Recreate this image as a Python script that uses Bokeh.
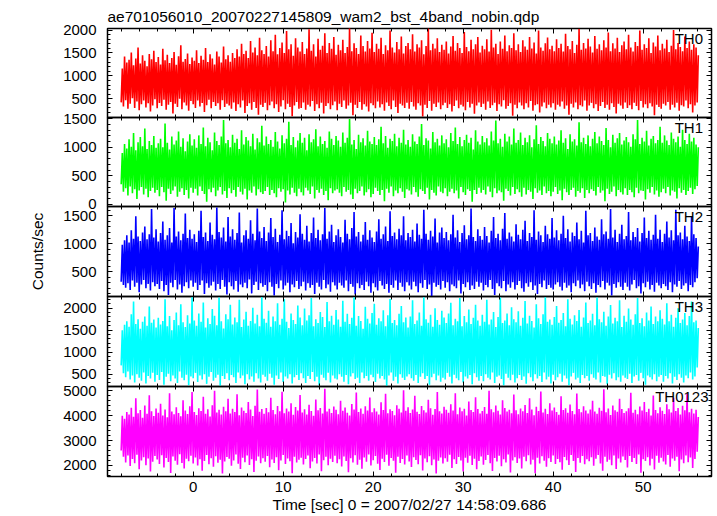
import numpy as np
from bokeh.plotting import figure
from bokeh.layouts import column
from bokeh.models import Range1d, LinearAxis, Label, SingleIntervalTicker, CustomJSTickFormatter
from bokeh.embed import file_html
from bokeh.resources import INLINE

TITLE = "ae701056010_20070227145809_wam2_bst_4band_nobin.qdp"
X_LABEL = "Time [sec] 0 = 2007/02/27 14:58:09.686"
Y_LABEL = "Counts/sec"
SERIES_NAMES = ["TH0", "TH1", "TH2", "TH3", "TH0123"]
COLORS = ["#ff0000", "#00ff00", "#0000ff", "#00ffff", "#ff00ff"]

X_RANGE = (-9.52, 57.59)
Y_RANGES = [(90, 2035), (-42, 1525), (54, 1667), (220, 2265), (1555, 5175)]
Y_TICK_STEP = [500, 500, 500, 500, 1000]
X_TICK_STEP = 10

# light-curve local maxima / minima, every 0.25 s from t = -8 s
TIME_START = -8.0
TIME_STEP = 0.25

TH0_PEAK = [
    1160, 1420, 1290, 1350, 1510, 1230, 1380, 1620, 1270, 1450, 1330, 1210, 1480, 1360, 1550, 1300,
    1410, 1250, 1590, 1340, 1460, 1280, 1390, 1520, 1240, 1430, 1670, 1310, 1370, 1490, 1260, 1400,
    1330, 1560, 1280, 1440, 1350, 1610, 1300, 1470, 1380, 1250, 1530, 1420, 1290, 1640, 1360, 1450,
    1310, 1500, 1390, 1580, 1420, 1700, 1480, 1550, 1390, 1760, 1510, 1620, 1450, 1830, 1560, 1480,
    1650, 1420, 1780, 1540, 1900, 1470, 1610, 1730, 1500, 1980, 1580, 1690, 1440, 1820, 1620, 1530,
    1740, 1480, 1600, 2020, 1550, 1690, 1420, 1810, 1570, 1660, 1930, 1500, 1720, 1590, 1850, 1460,
    1680, 1560, 1790, 1500, 1630, 2050, 1540, 1710, 1610, 1480, 1880, 1650, 1530, 1760, 1600, 1940,
    1520, 1700, 1590, 1830, 1480, 1670, 1560, 1990, 1620, 1510, 1740, 1580, 1860, 1490, 1650, 1720,
    1580, 1910, 1530, 1690, 1620, 1780, 1470, 1650, 2040, 1560, 1700, 1600, 1820, 1520, 1680, 1570,
    1750, 1490, 1640, 1870, 1550, 1720, 1610, 1500, 1960, 1630, 1540, 1790, 1580, 1690, 1850, 1510,
    1660, 1580, 1800, 1530, 2010, 1620, 1700, 1480, 1750, 1590, 1880, 1540, 1670, 1610, 1930, 1560,
    1690, 1520, 1780, 1640, 1570, 1850, 1600, 1730, 1490, 1990, 1620, 1550, 1710, 1840, 1580, 1660,
    1540, 1800, 1610, 1700, 1530, 1920, 1650, 1580, 1760, 1500, 1680, 2030, 1570, 1720, 1600, 1810,
    1640, 1510, 1870, 1590, 1690, 1560, 1780, 1620, 1950, 1540, 1710, 1600, 1830, 1520, 1670, 1750,
    1580, 1900, 1620, 1530, 1740, 1650, 1990, 1570, 1690, 1610, 1820, 1500, 1730, 1640, 1880, 1560,
    1700, 1600, 1790, 1520, 1660, 2000, 1580, 1720, 1630, 1540, 1860, 1610, 1750, 1570, 1690, 1620,
    1450]
TH0_TROUGH = [
    420, 330, 470, 280, 390, 510, 300, 440, 250, 380, 460, 310, 400, 220, 350, 490,
    290, 410, 340, 480, 260, 370, 430, 180, 390, 320, 500, 270, 420, 350, 240, 450,
    380, 300, 460, 330, 410, 210, 360, 480, 290, 430, 340, 400, 260, 470, 320, 390,
    350, 280, 420, 230, 380, 310, 460, 190, 340, 400, 260, 430, 300, 150, 370, 320,
    410, 250, 360, 440, 290, 380, 210, 330, 470, 270, 390, 320, 120, 350, 430, 280,
    300, 420, 260, 370, 330, 450, 230, 380, 290, 410, 180, 340, 400, 270, 360, 440,
    250, 390, 320, 460, 280, 350, 410, 140, 370, 300, 430, 260, 380, 330, 220, 400,
    360, 290, 440, 310, 380, 240, 420, 340, 270, 460, 320, 190, 390, 350, 300, 410,
    280, 430, 330, 260, 400, 350, 110, 370, 300, 450, 240, 390, 320, 420, 270, 360,
    410, 300, 380, 220, 340, 460, 290, 370, 330, 250, 430, 310, 390, 170, 350, 420,
    320, 390, 260, 440, 300, 360, 410, 230, 380, 330, 470, 280, 340, 400, 130, 370,
    290, 420, 350, 270, 400, 310, 450, 240, 360, 380, 200, 330, 420, 290, 370, 310,
    400, 260, 370, 330, 440, 280, 350, 150, 390, 310, 420, 270, 360, 330, 460, 240,
    350, 410, 290, 380, 230, 340, 430, 300, 370, 260, 400, 320, 180, 390, 350, 280,
    420, 300, 360, 270, 410, 340, 250, 450, 310, 380, 290, 400, 330, 140, 370, 320,
    280, 390, 350, 430, 260, 370, 310, 410, 240, 360, 330, 460, 290, 380, 200, 350,
    420]

TH1_PEAK = [
    900, 1060, 980, 1140, 1010, 1250, 950, 1090, 1180, 1020, 1330, 970, 1110, 1040, 1200, 990,
    1070, 1150, 1000, 1420, 1080, 960, 1190, 1050, 1120, 1280, 1010, 1160, 930, 1100, 1230, 1030,
    1140, 990, 1210, 1060, 1350, 1020, 1170, 1090, 950, 1260, 1110, 1040, 1190, 1480, 1070, 1130,
    1000, 1220, 1080, 1150, 970, 1300, 1050, 1180, 1120, 1020, 1240, 960, 1160, 1090, 1380, 1030,
    1190, 1060, 1130, 1010, 1270, 1100, 980, 1210, 1070, 1150, 1450, 1040, 1180, 1000, 1120, 1250,
    1080, 1170, 950, 1230, 1090, 1140, 1320, 1020, 1190, 1060, 1110, 990, 1280, 1150, 1040, 1200,
    1120, 1010, 1260, 1080, 1170, 1500, 1050, 1130, 970, 1220, 1090, 1160, 1030, 1290, 1100, 1060,
    1180, 1040, 1140, 1360, 1070, 1200, 990, 1150, 1110, 1240, 1020, 1170, 1080, 1310, 1050, 1130,
    1010, 1230, 1100, 1060, 1190, 1410, 1040, 1160, 1120, 980, 1270, 1090, 1150, 1030, 1210, 1070,
    1140, 1000, 1250, 1110, 1350, 1060, 1180, 1020, 1130, 1220, 1080, 1170, 960, 1300, 1100, 1050,
    1200, 1090, 1160, 1030, 1280, 1120, 1470, 1070, 1150, 1010, 1240, 1100, 1190, 1050, 1330, 1080,
    1130, 1260, 1040, 1170, 1090, 1210, 1000, 1140, 1390, 1060, 1180, 1110, 1020, 1250, 1150, 1070,
    1190, 1050, 1120, 1300, 1080, 1160, 970, 1230, 1100, 1140, 1030, 1440, 1090, 1170, 1060, 1210,
    1020, 1150, 1270, 1070, 1190, 1110, 1040, 1340, 1130, 1000, 1220, 1080, 1160, 1250, 1050, 1120,
    1180, 1090, 1010, 1230, 1140, 1480, 1060, 1170, 1100, 1290, 1030, 1150, 1200, 1070, 1130, 1360,
    1080, 1210, 1120, 1040, 1260, 1150, 1090, 1190, 1010, 1310, 1130, 1060, 1240, 1100, 1170, 1050,
    1000]
TH1_TROUGH = [
    350, 220, 280, 150, 310, 190, 260, 90, 240, 300, 170, 270, 120, 230, 290, 200,
    250, 140, 300, 210, 60, 270, 180, 240, 310, 130, 220, 280, 160, 250, 100, 290,
    200, 270, 150, 310, 230, 180, 40, 260, 210, 290, 140, 240, 300, 170, 230, 110,
    280, 190, 250, 130, 300, 220, 170, 270, 80, 240, 200, 310, 150, 260, 210, 180,
    230, 300, 160, 250, 190, 120, 280, 220, 260, 30, 240, 170, 290, 200, 140, 270,
    210, 150, 290, 240, 180, 310, 100, 250, 200, 270, 160, 230, 70, 280, 190, 240,
    260, 200, 140, 300, 220, 250, 170, 90, 270, 190, 230, 310, 150, 210, 260, 120,
    180, 290, 230, 160, 250, 50, 270, 200, 310, 140, 240, 190, 280, 220, 110, 260,
    240, 170, 300, 210, 130, 260, 230, 180, 290, 80, 250, 200, 150, 310, 220, 190,
    280, 140, 220, 270, 190, 240, 100, 300, 210, 160, 260, 230, 40, 250, 180, 290,
    200, 250, 170, 310, 220, 120, 280, 190, 240, 210, 60, 270, 230, 150, 300, 180,
    260, 210, 130, 290, 170, 250, 220, 90, 280, 200, 240, 160, 310, 190, 230, 140,
    220, 300, 180, 240, 70, 270, 210, 160, 250, 290, 130, 230, 200, 280, 110, 250,
    190, 260, 230, 150, 300, 200, 240, 50, 270, 180, 220, 310, 140, 250, 210, 170,
    280, 160, 250, 210, 120, 290, 190, 240, 230, 80, 260, 200, 300, 170, 240, 130,
    210, 270, 190, 300, 150, 240, 220, 100, 280, 200, 250, 160, 230, 290, 180, 260,
    320]

TH2_PEAK = [
    980, 1060, 1150, 1020, 1240, 1090, 1490, 1130, 1050, 1200, 1310, 1080, 1170, 1620, 1110, 1260,
    1040, 1190, 1400, 1070, 1150, 1280, 1020, 1640, 1130, 1220, 1060, 1180, 1540, 1100, 1250, 1090,
    1170, 1030, 1230, 1590, 1120, 1200, 1050, 1380, 1160, 1080, 1650, 1210, 1110, 1290, 1040, 1480,
    1130, 1260, 1070, 1190, 1560, 1020, 1150, 1240, 1090, 1420, 1180, 1060, 1630, 1220, 1100, 1300,
    1050, 1200, 1460, 1120, 1270, 1030, 1160, 1600, 1080, 1230, 1140, 1370, 1010, 1210, 1110, 1530,
    1180, 1070, 1320, 1040, 1190, 1470, 1100, 1250, 1060, 1170, 1640, 1090, 1220, 1340, 1030, 1150,
    1260, 1120, 1020, 1430, 1180, 1080, 1280, 1570, 1130, 1210, 1040, 1160, 1390, 1070, 1240, 1110,
    1030, 1220, 1440, 1090, 1170, 1310, 1050, 1580, 1140, 1200, 1080, 1270, 1150, 1490, 1060, 1190,
    1120, 1250, 1040, 1360, 1160, 1090, 1610, 1180, 1070, 1230, 1130, 1450, 1020, 1200, 1290, 1100,
    1210, 1060, 1170, 1520, 1110, 1240, 1030, 1190, 1330, 1080, 1150, 1630, 1120, 1050, 1260, 1140,
    1070, 1300, 1140, 1020, 1230, 1480, 1100, 1180, 1060, 1270, 1550, 1090, 1200, 1130, 1040, 1350,
    1160, 1080, 1250, 1410, 1050, 1190, 1120, 1600, 1070, 1220, 1150, 1030, 1320, 1170, 1090, 1460,
    1110, 1240, 1060, 1180, 1500, 1100, 1260, 1040, 1200, 1140, 1380, 1080, 1230, 1020, 1590, 1150,
    1190, 1050, 1290, 1130, 1070, 1440, 1170, 1220, 1090, 1620, 1110, 1250, 1030, 1180, 1340, 1080,
    1140, 1570, 1060, 1210, 1120, 1280, 1040, 1190, 1470, 1100, 1230, 1070, 1160, 1520, 1090, 1250,
    1030, 1180, 1400, 1110, 1240, 1060, 1610, 1150, 1200, 1080, 1320, 1130, 1050, 1490, 1170, 1100,
    950]
TH2_TROUGH = [
    320, 260, 210, 290, 170, 340, 230, 300, 130, 270, 350, 200, 280, 160, 310, 240,
    280, 190, 330, 150, 260, 80, 300, 220, 350, 180, 270, 120, 240, 310, 200, 340,
    230, 300, 170, 260, 340, 100, 290, 210, 250, 320, 160, 280, 190, 350, 230, 90,
    310, 240, 180, 330, 140, 270, 220, 300, 200, 360, 110, 260, 320, 170, 290, 230,
    260, 150, 310, 230, 70, 280, 200, 340, 180, 250, 300, 130, 270, 220, 330, 190,
    240, 320, 160, 290, 210, 260, 100, 300, 230, 180, 350, 200, 270, 140, 310, 250,
    180, 300, 250, 210, 340, 150, 280, 230, 90, 290, 200, 260, 170, 320, 240, 120,
    290, 220, 160, 330, 250, 190, 280, 120, 260, 210, 340, 170, 300, 230, 150, 310,
    250, 180, 320, 240, 130, 290, 210, 350, 190, 270, 60, 300, 230, 260, 180, 330,
    210, 310, 150, 270, 240, 200, 340, 110, 280, 220, 310, 170, 250, 190, 320, 230,
    300, 160, 260, 220, 350, 190, 80, 290, 240, 200, 330, 150, 270, 210, 310, 180,
    260, 330, 200, 140, 290, 230, 310, 170, 250, 100, 280, 220, 340, 190, 260, 210,
    180, 270, 310, 230, 160, 300, 210, 250, 130, 290, 240, 340, 200, 270, 150, 320,
    240, 190, 290, 120, 260, 220, 330, 180, 300, 250, 70, 280, 210, 310, 230, 170,
    300, 230, 160, 270, 350, 200, 240, 110, 290, 220, 320, 180, 260, 140, 300, 250,
    200, 280, 240, 170, 310, 130, 270, 230, 330, 190, 250, 290, 150, 260, 220, 310,
    380]

TH3_PEAK = [
    1500, 1620, 1700, 1580, 1860, 2150, 1640, 1750, 1530, 1690, 1810, 1600, 2040, 1670, 1740, 1560,
    1780, 1630, 1710, 2200, 1590, 1820, 1500, 1730, 1900, 1610, 2090, 1680, 1570, 1840, 1650, 2250,
    1720, 1600, 1880, 1690, 2130, 1560, 1770, 1640, 1980, 1830, 1610, 2240, 1700, 1540, 1860, 1750,
    2080, 1630, 1790, 1680, 2190, 1570, 1740, 1920, 1600, 1710, 2010, 1650, 1850, 1590, 2250, 1760,
    1670, 1940, 1580, 1810, 1700, 2110, 1620, 1760, 2200, 1690, 1550, 1880, 1730, 1640, 2060, 1790,
    1610, 1990, 1720, 1840, 2230, 1590, 1750, 1660, 1910, 1800, 1570, 2140, 1700, 1830, 1620, 1960,
    1740, 1580, 2170, 1690, 1870, 1640, 1780, 2250, 1600, 1820, 1710, 1530, 2030, 1760, 1650, 1890,
    2100, 1620, 1770, 1700, 1950, 1590, 1840, 2210, 1660, 1730, 1610, 1870, 2050, 1680, 1790, 1560,
    1810, 2180, 1640, 1720, 1900, 1600, 2250, 1750, 1670, 1850, 1580, 2000, 1730, 1620, 1940, 1790,
    1660, 1880, 2120, 1610, 1760, 1700, 2230, 1590, 1820, 1680, 1970, 1640, 1780, 2080, 1720, 1600,
    1850, 1690, 2190, 1630, 1740, 1910, 1570, 1800, 2240, 1660, 1720, 1880, 1610, 2020, 1750, 1680,
    1930, 1600, 1780, 2160, 1650, 1830, 1710, 1560, 2090, 1770, 1640, 1860, 2250, 1690, 1740, 1620,
    1800, 2050, 1670, 1730, 1890, 1590, 2200, 1760, 1630, 1840, 1710, 1960, 1580, 1790, 2130, 1660,
    1720, 1870, 1610, 2240, 1750, 1680, 1920, 1600, 1810, 2070, 1650, 1780, 1700, 2180, 1570, 1830,
    1690, 1990, 1740, 1620, 1860, 2230, 1660, 1770, 1590, 1900, 1720, 2040, 1640, 1810, 1700, 1950,
    1760, 1630, 2110, 1700, 1850, 1580, 1780, 2000, 1660, 1740, 1890, 1610, 1820, 2150, 1680, 1720,
    1550]
TH3_TROUGH = [
    700, 520, 430, 560, 380, 470, 310, 500, 420, 350, 540, 290, 460, 400, 530, 330,
    480, 370, 550, 260, 440, 510, 340, 470, 400, 300, 560, 420, 360, 490, 250, 450,
    410, 530, 320, 470, 380, 500, 280, 440, 550, 350, 420, 490, 240, 460, 390, 520,
    360, 480, 430, 300, 540, 410, 470, 270, 500, 380, 450, 330, 520, 400, 310, 490,
    440, 350, 510, 420, 260, 470, 390, 540, 320, 450, 400, 500, 290, 430, 480, 370,
    520, 410, 300, 460, 390, 550, 340, 440, 250, 490, 420, 360, 530, 310, 470, 400,
    380, 500, 440, 330, 480, 270, 450, 520, 390, 420, 300, 540, 410, 460, 350, 490,
    430, 320, 510, 400, 460, 380, 240, 470, 540, 350, 440, 290, 500, 420, 370, 450,
    500, 410, 350, 480, 300, 440, 520, 390, 460, 260, 430, 510, 360, 470, 330, 420,
    380, 530, 440, 290, 490, 410, 360, 550, 310, 450, 400, 480, 270, 520, 430, 350,
    460, 340, 500, 420, 380, 540, 300, 440, 470, 390, 250, 510, 420, 360, 490, 310,
    410, 480, 370, 450, 280, 520, 430, 340, 500, 400, 460, 320, 540, 380, 440, 290,
    490, 360, 430, 510, 330, 470, 400, 250, 450, 530, 380, 420, 300, 480, 410, 460,
    350, 500, 420, 380, 540, 310, 460, 440, 270, 490, 400, 520, 360, 430, 330, 470,
    420, 390, 510, 300, 450, 480, 350, 530, 410, 260, 470, 430, 380, 500, 340, 440,
    480, 330, 460, 400, 520, 290, 440, 370, 500, 420, 310, 470, 410, 540, 380, 450,
    650]

TH0123_PEAK = [
    4000, 3880, 4150, 4050, 4320, 3960, 4700, 4100, 4230, 3920, 4410, 4080, 4820, 4180, 3990, 4290,
    4120, 4480, 4010, 4250, 3940, 4900, 4170, 4060, 4340, 4110, 3980, 4620, 4210, 4070, 4380, 4950,
    4150, 4030, 4300, 4190, 4760, 4080, 4260, 3970, 4420, 5000, 4130, 4240, 4050, 4360, 4180, 4680,
    4090, 4280, 4150, 4860, 4020, 4330, 4200, 4110, 4550, 4250, 3990, 4400, 5050, 4160, 4270, 4080,
    4310, 4140, 4720, 4230, 4060, 4390, 4180, 4960, 4100, 4290, 4170, 4500, 4040, 4350, 4210, 4830,
    4130, 4260, 4050, 4440, 4190, 4000, 4650, 4220, 4310, 4090, 5080, 4170, 4280, 4110, 4370, 4240,
    4060, 4600, 4200, 4330, 4120, 4010, 4470, 4250, 4930, 4150, 4290, 4080, 4380, 4210, 4730, 4140,
    4300, 4170, 4050, 4540, 4230, 4880, 4100, 4260, 4190, 4020, 4420, 4280, 4130, 5020, 4200, 4340,
    4110, 4250, 4800, 4160, 4070, 4390, 4220, 4130, 4640, 4300, 4040, 4270, 4950, 4180, 4090, 4360,
    4240, 4120, 4460, 4210, 4900, 4060, 4330, 4180, 4280, 4010, 4570, 4230, 4150, 4740, 4270, 4090,
    4190, 4350, 4080, 5000, 4260, 4140, 4410, 4200, 4050, 4620, 4310, 4170, 4240, 4100, 4850, 4220,
    4060, 4290, 4180, 4430, 4110, 4700, 4250, 4020, 4360, 4190, 4970, 4130, 4280, 4070, 4500, 4210,
    4330, 4150, 4040, 4780, 4230, 4300, 4120, 4450, 4190, 4060, 4890, 4270, 4140, 4380, 4210, 4090,
    4250, 4600, 4170, 4080, 4320, 4200, 5060, 4140, 4290, 4030, 4410, 4220, 4160, 4680, 4270, 4110,
    4180, 4300, 4920, 4120, 4240, 4060, 4370, 4210, 4550, 4150, 4280, 4010, 4810, 4230, 4100, 4340,
    4200, 4070, 4460, 4260, 4130, 4720, 4190, 4310, 4050, 4400, 4220, 4880, 4140, 4280, 4090, 4240,
    3950]
TH0123_TROUGH = [
    2600, 2350, 2120, 2400, 1980, 2260, 2090, 2430, 1850, 2200, 2330, 2010, 2280, 1760, 2150, 2380,
    2240, 2060, 2410, 1920, 2300, 2140, 1700, 2360, 2190, 2030, 2450, 2100, 1880, 2270, 2170, 2390,
    2080, 2320, 2000, 2250, 1790, 2180, 2420, 2050, 2290, 1950, 2370, 2110, 2230, 1680, 2160, 2340,
    2270, 1990, 2200, 2440, 2070, 1860, 2310, 2130, 2400, 2020, 2250, 1740, 2190, 2360, 2090, 2290,
    2150, 2380, 1930, 2240, 2100, 2330, 1810, 2200, 2420, 2060, 2280, 2170, 1690, 2350, 2120, 2230,
    2310, 2040, 2260, 2400, 1890, 2160, 2300, 2080, 2440, 1770, 2210, 2350, 2010, 2270, 2140, 2390,
    2090, 2250, 1960, 2360, 2180, 1730, 2290, 2120, 2410, 2030, 2230, 1870, 2320, 2150, 2440, 2000,
    2210, 2380, 2070, 1820, 2270, 2140, 2430, 1990, 2300, 2190, 1710, 2350, 2100, 2260, 2040, 2400,
    2160, 1940, 2330, 2220, 2050, 2410, 1800, 2280, 2130, 2370, 2010, 2240, 1680, 2190, 2320, 2080,
    2290, 2150, 2430, 1900, 2250, 2060, 2340, 2200, 1760, 2310, 2110, 2390, 2020, 2270, 1850, 2180,
    2360, 2030, 2220, 2420, 2090, 1780, 2300, 2160, 2390, 1970, 2250, 2120, 2440, 1720, 2200, 2330,
    2100, 2280, 1880, 2350, 2170, 2410, 2040, 2230, 1690, 2310, 2080, 2370, 2190, 1950, 2290, 2140,
    2400, 2060, 2260, 2130, 1830, 2340, 2210, 2020, 2420, 2180, 1740, 2300, 2110, 2380, 2050, 2250,
    2170, 2330, 1990, 2270, 2420, 2080, 1790, 2350, 2150, 2230, 2010, 2400, 1860, 2280, 2120, 2360,
    2220, 1920, 2380, 2140, 2300, 2060, 2440, 1710, 2250, 2180, 2330, 2000, 2270, 1840, 2390, 2110,
    2310, 2160, 2040, 2420, 1950, 2280, 2190, 2350, 1770, 2240, 2090, 2400, 2130, 2320, 1900, 2260,
    2550]

PEAKS = [TH0_PEAK, TH1_PEAK, TH2_PEAK, TH3_PEAK, TH0123_PEAK]
TROUGHS = [TH0_TROUGH, TH1_TROUGH, TH2_TROUGH, TH3_TROUGH, TH0123_TROUGH]

FONT = "Liberation Sans"
TICK_FONT = "15px"
LABEL_FONT = "15.5px"
FRAME_HEIGHTS = [89, 89, 90, 90, 90]


def style_axis(ax, show_labels):
    ax.major_tick_in = 5
    ax.major_tick_out = 0
    ax.minor_tick_in = 3
    ax.minor_tick_out = 0
    ax.axis_line_color = None
    ax.major_tick_line_color = "black"
    ax.minor_tick_line_color = "black"
    if show_labels:
        ax.major_label_text_font = FONT
        ax.major_label_text_font_size = TICK_FONT
        ax.major_label_text_color = "black"
    else:
        ax.formatter = CustomJSTickFormatter(code="return '';")
        ax.major_label_text_font_size = "0px"
        ax.major_label_standoff = 0


xr = Range1d(*X_RANGE)
figs = []
for i in range(5):
    first = i == 0
    last = i == 4
    p = figure(frame_width=604, frame_height=FRAME_HEIGHTS[i],
               x_range=xr, y_range=Range1d(*Y_RANGES[i]),
               output_backend="svg", toolbar_location=None,
               x_axis_location=None, y_axis_location=None,
               min_border_left=107, min_border_right=2,
               min_border_top=28 if first else 10,
               min_border_bottom=34 if last else 10,
               background_fill_color=None, border_fill_color=None,
               outline_line_color="black", outline_line_width=1.5)
    p.grid.visible = False
    if first:
        p.title.text = TITLE
        p.title.text_font = FONT
        p.title.text_font_size = LABEL_FONT
        p.title.text_font_style = "normal"
        p.title.text_color = "black"
        p.title.align = "left"
        p.title.standoff = 8
    else:
        p.margin = (-20, 0, 0, 0)

    xticker = SingleIntervalTicker(interval=X_TICK_STEP, num_minor_ticks=5)
    yticker = SingleIntervalTicker(interval=Y_TICK_STEP[i], num_minor_ticks=5)

    bx = LinearAxis(ticker=xticker)
    style_axis(bx, last)
    if last:
        bx.major_label_standoff = 5
        bx.axis_label = X_LABEL
        bx.axis_label_text_font = FONT
        bx.axis_label_text_font_size = LABEL_FONT
        bx.axis_label_text_font_style = "normal"
        bx.axis_label_text_color = "black"
        bx.axis_label_standoff = 1
    p.add_layout(bx, "below")

    tx = LinearAxis(ticker=xticker)
    style_axis(tx, False)
    p.add_layout(tx, "above")

    ly = LinearAxis(ticker=yticker)
    style_axis(ly, True)
    ly.major_label_standoff = 11
    if i == 2:
        ly.axis_label = Y_LABEL
        ly.axis_label_text_font = FONT
        ly.axis_label_text_font_size = LABEL_FONT
        ly.axis_label_text_font_style = "normal"
        ly.axis_label_text_color = "black"
        ly.axis_label_standoff = 14
    p.add_layout(ly, "left")

    ry = LinearAxis(ticker=yticker)
    style_axis(ry, False)
    p.add_layout(ry, "right")

    # light curve: alternate local minima / maxima
    pk = np.asarray(PEAKS[i], dtype=float)
    tr = np.asarray(TROUGHS[i], dtype=float)
    n = min(len(pk), len(tr))
    t = TIME_START + TIME_STEP * np.arange(n)
    xs = np.empty(2 * n)
    ys = np.empty(2 * n)
    xs[0::2] = t
    xs[1::2] = t + TIME_STEP / 2
    ys[0::2] = tr[:n]
    ys[1::2] = pk[:n]
    p.line(xs, ys, line_color=COLORS[i], line_width=1.6)

    lab = Label(x=X_RANGE[1], y=Y_RANGES[i][1], text=SERIES_NAMES[i],
                x_offset=-3 if last else -8.5, y_offset=-1,
                text_align="right", text_baseline="top",
                text_font=FONT, text_font_size=TICK_FONT, text_color="black")
    p.add_layout(lab)
    figs.append(p)

layout = column(*figs, spacing=0)
open("out.html", "w").write(file_html(layout, INLINE))
